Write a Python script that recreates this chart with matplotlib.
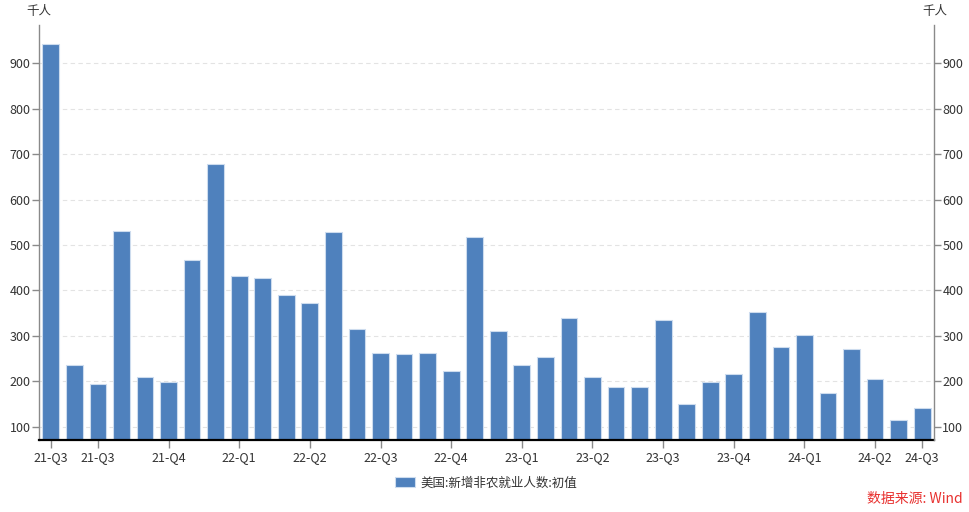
import matplotlib
matplotlib.use("Agg")
import matplotlib.pyplot as plt
from matplotlib.patches import FancyBboxPatch
from matplotlib.legend_handler import HandlerPatch

plt.rcParams['font.family'] = ['Noto Sans CJK SC', 'DejaVu Sans']

months = ['2021-07', '2021-08', '2021-09', '2021-10', '2021-11', '2021-12',
          '2022-01', '2022-02', '2022-03', '2022-04', '2022-05', '2022-06',
          '2022-07', '2022-08', '2022-09', '2022-10', '2022-11', '2022-12',
          '2023-01', '2023-02', '2023-03', '2023-04', '2023-05', '2023-06',
          '2023-07', '2023-08', '2023-09', '2023-10', '2023-11', '2023-12',
          '2024-01', '2024-02', '2024-03', '2024-04', '2024-05', '2024-06',
          '2024-07', '2024-08']
values = [943, 235, 194, 531, 210, 199, 467, 678, 431, 428, 390, 372,
          528, 315, 263, 261, 263, 223, 517, 311, 236, 253, 339, 209,
          187, 187, 336, 150, 199, 216, 353, 275, 303, 175, 272, 206,
          114, 142]
tick_idx = [0, 2, 5, 8, 11, 14, 17, 20, 23, 26, 29, 32, 35, 37]
tick_labels = ['21-Q3', '21-Q3', '21-Q4', '22-Q1', '22-Q2', '22-Q3', '22-Q4',
               '23-Q1', '23-Q2', '23-Q3', '23-Q4', '24-Q1', '24-Q2', '24-Q3']
yticks = [100, 200, 300, 400, 500, 600, 700, 800, 900]
series_name = '美国:新增非农就业人数:初值'
unit = '千人'
source = '数据来源: Wind'

BAR = '#4f81bd'
TXT = '#333333'
AX = '#8a8a8a'

fig = plt.figure(figsize=(9.69, 5.12), dpi=100)
ax = fig.add_axes([39/969, 1-440/512, (934-39)/969, (440-25)/512])

x = list(range(len(values)))
bars = ax.bar(x, values, width=0.71, color=BAR, edgecolor='#cddcee',
              linewidth=0.8, label=series_name, zorder=3)
ax.set_xlim(-0.5, len(values) - 0.5)
ax.set_ylim(71, 984)
ax.set_yticks(yticks)
ax.set_xticks(tick_idx)
ax.set_xticklabels(tick_labels)
ax.grid(axis='y', color='#e3e3e3', linestyle=(0, (4, 3)), linewidth=0.8, zorder=0)

for s in ['top', 'right']:
    ax.spines[s].set_visible(False)
ax.spines['left'].set_color(AX)
ax.spines['left'].set_linewidth(1.0)
ax.spines['bottom'].set_color('#000000')
ax.spines['bottom'].set_linewidth(1.6)
ax.spines['bottom'].set_zorder(5)
ax.tick_params(axis='y', colors=AX, labelcolor=TXT, labelsize=9, length=5, width=1, pad=1)
ax.tick_params(axis='x', colors=AX, labelcolor=TXT, labelsize=9, length=6, width=1, pad=2)

ax2 = ax.twinx()
ax2.set_ylim(ax.get_ylim())
ax2.set_yticks(yticks)
for s in ['top', 'left', 'bottom']:
    ax2.spines[s].set_visible(False)
ax2.spines['right'].set_color(AX)
ax2.spines['right'].set_linewidth(1.0)
ax2.tick_params(axis='y', colors=AX, labelcolor=TXT, labelsize=9, length=5, width=1, pad=1)

fig.text(39/969, 1-11/512, unit, ha='center', va='center', fontsize=9, color=TXT)
fig.text(935/969, 1-11/512, unit, ha='center', va='center', fontsize=9, color=TXT)


class RoundHandler(HandlerPatch):
    def create_artists(self, legend, orig_handle, xdescent, ydescent, width,
                       height, fontsize, trans):
        p = FancyBboxPatch((-xdescent, -ydescent), width, height,
                           boxstyle='round,pad=0,rounding_size=3',
                           facecolor=BAR, edgecolor=BAR, transform=trans)
        return [p]


fig.legend(handles=[bars], labels=[series_name], loc='center',
           bbox_to_anchor=(486/969, 1-483/512), frameon=False, fontsize=9,
           handlelength=1.6, handleheight=0.9, handletextpad=0.4,
           labelcolor=TXT, handler_map={type(bars.patches[0]): RoundHandler()})

fig.text(963/969, 1-499/512, source, ha='right', va='center', fontsize=10,
         color='#e8312f')

fig.savefig('out.png', dpi=100)
